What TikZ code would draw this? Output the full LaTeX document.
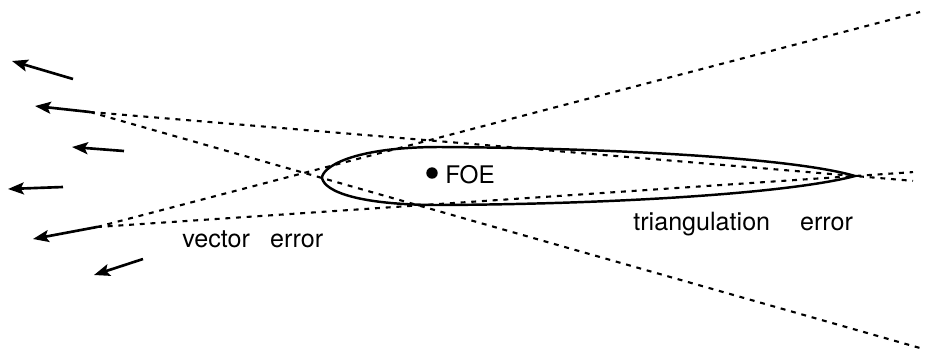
\documentclass[tikz,border=0pt]{standalone}
\usepackage{fontspec}
\setmainfont{TeX Gyre Heros}
\usetikzlibrary{arrows.meta,calc}
\begin{document}
\begin{tikzpicture}[x=0.02cm,y=-0.02cm,
  vec/.style={line width=1.5pt,-{Stealth[length=9pt,width=6.8pt,inset=1.8pt]}},
  ray/.style={line width=1.2pt,dash pattern=on 2.8pt off 3.3pt},
  blob/.style={line width=1.4pt},
  lbl/.style={inner sep=0pt,anchor=base west,font=\fontsize{14.3pt}{17pt}\selectfont},
  foelbl/.style={inner sep=0pt,anchor=base west,font=\fontsize{13.8pt}{16pt}\selectfont}]
\useasboundingbox (0,0) rectangle (925,356);
% key points
\coordinate (A) at (90,112);
\coordinate (B) at (97,227);
\coordinate (T) at (855,176);
\coordinate (AE) at (920,348);
\coordinate (BE) at (920,12);
\coordinate (AT) at ($(A)!1.0758!(T)$);
\coordinate (BT) at ($(B)!1.0765!(T)$);
% flow vectors
\coordinate (v1s) at (73,79);   \coordinate (v1e) at (12,61);
\coordinate (v3s) at (124,151); \coordinate (v3e) at (72,147);
\coordinate (v4s) at (63,187);  \coordinate (v4e) at (8,189);
\coordinate (v6s) at (143,259); \coordinate (v6e) at (94,275);
\coordinate (v2e) at (35,106);
\coordinate (v5e) at (33,239);
\draw[vec] (v1s) -- (v1e);
\draw[vec] (A) -- (v2e);
\draw[vec] (v3s) -- (v3e);
\draw[vec] (v4s) -- (v4e);
\draw[vec] (B) -- (v5e);
\draw[vec] (v6s) -- (v6e);
% rays
\draw[ray] (A) -- (AE);
\draw[ray] (B) -- (BE);
\draw[ray] (A) -- (AT);
\draw[ray] (B) -- (BT);
% uncertainty region
\draw[blob] (T) .. controls (790,157) and (600,148) .. (440,147)
  .. controls (350,147) and (322,168) .. (322,178)
  .. controls (325,192) and (360,205) .. (440,205)
  .. controls (620,204) and (790,193) .. (T) -- cycle;
% FOE
\node[circle,fill,inner sep=0pt,minimum size=6.5pt] (dot) at (432,173) {};
\node[foelbl] (foe) at (445,183) {FOE};
% labels
\node[lbl] (verr) at (182,247) {vector\hspace{11.5pt}error};
\node[lbl] (terr) at (633,230) {triangulation\hspace{17pt}error};
\end{tikzpicture}
\end{document}
